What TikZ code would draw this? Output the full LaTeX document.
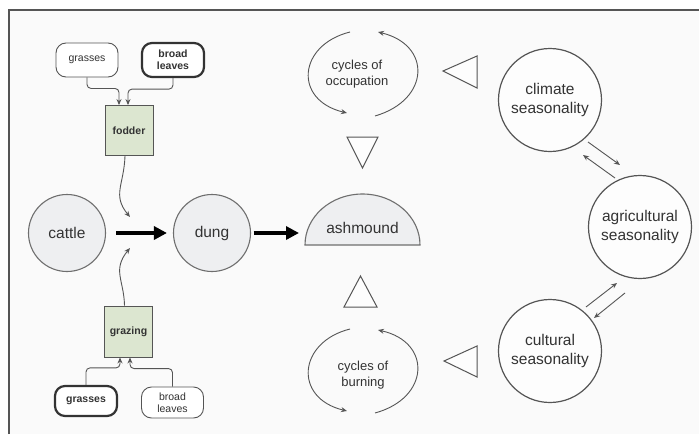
\documentclass[tikz,border=0pt]{standalone}
\usepackage{fontspec}
\setmainfont{Liberation Sans}
\usetikzlibrary{arrows.meta}
\definecolor{ink}{HTML}{333333}
\definecolor{linec}{HTML}{555555}
\definecolor{cfill}{HTML}{EEEFF1}
\definecolor{gfill}{HTML}{DCE6D0}
\definecolor{bgc}{HTML}{FAFAFA}
\begin{document}
\begin{tikzpicture}[x=1pt,y=-1pt,
  bigc/.style={circle,draw=linec!85,line width=1.1pt,fill=cfill,minimum size=77pt,inner sep=0pt,
    font=\fontsize{15.5}{18.5}\selectfont,text=ink},
  rc/.style={circle,draw=linec,line width=1.2pt,fill=white!60!bgc,minimum size=103pt,inner sep=0pt,
    align=center,font=\fontsize{15.5}{18.5}\selectfont,text=ink},
  small/.style={rounded corners=10pt,draw=linec,line width=0.9pt,fill=white,minimum width=62pt,
    minimum height=34pt,inner sep=0pt,align=center,font=\fontsize{10.5}{12}\selectfont,text=ink},
  hl/.style={line width=2.2pt,draw=ink,font=\fontsize{10.5}{12}\selectfont\bfseries},
  feedbox/.style={draw=linec,line width=0.9pt,fill=gfill,minimum width=48pt,minimum height=50pt,
    inner sep=0pt,font=\fontsize{10.5}{12}\selectfont\bfseries,text=ink},
  sarrow/.style={draw=linec,line width=0.9pt,-{Stealth[length=6pt,width=5pt]}},
  bigarrow/.style={draw=black,line width=3.5pt,-{Triangle[length=13pt,width=13pt]}},
  cyc/.style={draw=linec,line width=0.9pt,-{Stealth[length=6pt,width=5pt]}},
  tri/.style={draw=linec,line width=1pt,fill=white!60!bgc,line join=miter},
  lbl/.style={align=center,font=\fontsize{13}{16}\selectfont,text=ink}]
\useasboundingbox (0,0) rectangle (699,434);
\fill[white] (0,0) rectangle (699,434);
\fill[bgc] (9,10) rectangle (699,434);
\draw[linec,line width=2pt] (9,434) -- (9,10) -- (699,10);

% left part
\node[small] (g1) at (87,60) {grasses};
\node[small,hl] (b1) at (173,60) {broad\\leaves};
\node[feedbox] (fodder) at (129,130.5) {fodder};
\node[small,hl,minimum height=30pt] (g2) at (86,401) {grasses};
\node[small,minimum height=31pt] (b2) at (172.5,402.5) {broad\\leaves};
\node[feedbox,minimum height=51pt] (grazing) at (128.5,331.5) {grazing};

\draw[sarrow,rounded corners=4pt] (g1.south) -- ++(0,11) -| ([xshift=-10pt]fodder.north);
\draw[sarrow,rounded corners=4pt] (b1.south) -- ++(0,11) -| ([xshift=-1pt]fodder.north);
\draw[sarrow,rounded corners=4pt] (g2.north) -- ++(0,-17) -| ([xshift=-8.5pt]grazing.south);
\draw[sarrow,rounded corners=4pt] (b2.north) -- ++(0,-18) -| ([xshift=1.5pt]grazing.south);

\node[bigc] (cattle) at (67,233) {cattle};
\node[bigc] (dung) at (212,233) {dung};

\coordinate (fa) at (130,217);
\coordinate (ga) at (130,248);
\draw[sarrow] ([xshift=-4pt]fodder.south) .. controls (124,185) and (112,195) .. (fa);
\draw[sarrow] ([xshift=-4pt]grazing.north) .. controls (124,280) and (112,270) .. (ga);

\draw[bigarrow,shorten <=10pt,shorten >=6pt] (cattle) -- (dung);

% ashmound
\path[draw=linec!85,line width=1.1pt,fill=cfill] (305,245) .. controls (305,216.8) and (330.7,194) .. (362.5,194)
  .. controls (394.3,194) and (420,216.8) .. (420,245) -- cycle;
\node[font=\fontsize{15.5}{18.5}\selectfont,text=ink] (ash) at (362.5,228) {ashmound};
\coordinate (ashL) at (299,233);
\draw[bigarrow,shorten <=2.5pt] (dung) -- (ashL);

% cycles
\node[lbl] (occ) at (357,74) {cycles of\\occupation};
\coordinate (o1) at (350,32); \coordinate (o2) at (347,113);
\coordinate (o3) at (375,116); \coordinate (o4) at (378,32);
\draw[cyc] (o1) .. controls (298,45) and (293,100) .. (o2);
\draw[cyc] (o3) .. controls (430,100) and (432,45) .. (o4);

\node[lbl] (burn) at (363,375) {cycles of\\burning};
\coordinate (u1) at (350,329); \coordinate (u2) at (347,411);
\coordinate (u3) at (375,413); \coordinate (u4) at (378,330);
\draw[cyc] (u1) .. controls (298,342) and (293,398) .. (u2);
\draw[cyc] (u3) .. controls (430,398) and (432,342) .. (u4);

% triangles
\draw[tri] (443,71) -- (477,56) -- (477,88) -- cycle;
\draw[tri] (347,137) -- (378,137) -- (362.5,168) -- cycle;
\draw[tri] (360.5,276) -- (377,307) -- (344,307) -- cycle;
\draw[tri] (444,361) -- (477,346) -- (477,377) -- cycle;

% right circles
\node[rc] (climate) at (550,100) {climate\\seasonality};
\node[rc] (agri) at (640,227) {agricultural\\seasonality};
\node[rc] (cult) at (550,351) {cultural\\seasonality};

\coordinate (c1) at (588,142); \coordinate (c2) at (620,165);
\coordinate (c3) at (615,178); \coordinate (c4) at (583,155);
\draw[sarrow] (c1) -- (c2);
\draw[sarrow] (c3) -- (c4);
\coordinate (d1) at (586,307); \coordinate (d2) at (617,283);
\coordinate (d3) at (625,293); \coordinate (d4) at (594,318);
\draw[sarrow] (d1) -- (d2);
\draw[sarrow] (d3) -- (d4);
\end{tikzpicture}
\end{document}
